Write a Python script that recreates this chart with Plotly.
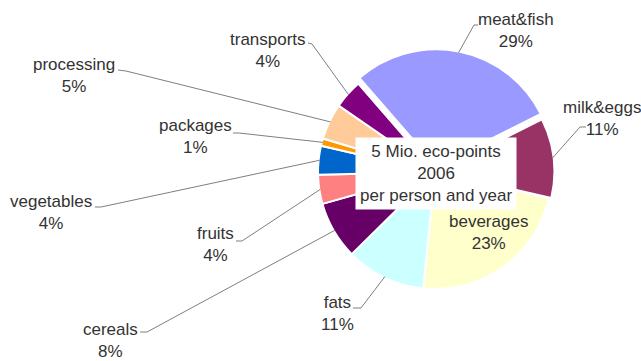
import math
import plotly.graph_objects as go

# ---- data ----
categories = ["meat&fish", "milk&eggs", "beverages", "fats", "cereals",
              "fruits", "vegetables", "packages", "processing", "transports"]
shares = [29, 11, 23, 11, 8, 4, 4, 1, 5, 4]
colors = ["#9999FF", "#993366", "#FFFFCC", "#CCFFFF", "#660066",
          "#FF8080", "#0066CC", "#FF9900", "#FFCC99", "#800080"]
pulls = [0.05, 0.02, 0, 0, 0, 0, 0, 0, 0, 0]
center_title = ["5 Mio. eco-points", "2006", "per person and year"]

# ---- layout (pixels) ----
W, H = 641, 361
CX, CY, R = 435, 172, 117
ROT = -41
FONT = "Liberation Sans, Arial, sans-serif"
TXT = "#333333"

# text centre of each label, and leader anchor points (text side)
label_center = {
    "meat&fish": (516, 31), "milk&eggs": (602, 118), "beverages": (488, 232),
    "fats": (337, 313), "cereals": (110, 340), "fruits": (215, 245),
    "vegetables": (51, 212), "packages": (195, 137), "processing": (74, 75),
    "transports": (268, 50),
}
leader_anchor = {
    "meat&fish": [(478, 25), (474, 25)],
    "milk&eggs": [(586, 127), (580, 127)],
    "fats": [(353, 308), (361, 308)],
    "cereals": [(140, 332), (147, 332)],
    "fruits": [(236, 241), (242, 241)],
    "vegetables": [(95, 207), (101, 207)],
    "packages": [(233, 133), (239, 133)],
    "processing": [(118, 70), (126, 71)],
    "transports": [(308, 43), (312, 44)],
}


def px(x):
    return x / W


def py(y):
    return 1 - y / H


half = R * (1 + max(pulls))
fig = go.Figure(go.Pie(
    labels=categories, values=shares, sort=False, direction="clockwise",
    rotation=ROT, pull=pulls, textinfo="none", hoverinfo="none",
    marker=dict(colors=colors, line=dict(color="white", width=2)),
    domain=dict(x=[px(CX - half), px(CX + half)],
                y=[py(CY + half), py(CY - half)]),
    showlegend=False,
))

total = sum(shares)
cum = 0
annotations = []
shapes = []
for name, v, pl in zip(categories, shares, pulls):
    mid = math.radians(ROT + 360 * (cum + v / 2) / total)
    cum += v
    pct = round(100 * v / total)
    tx, ty = label_center[name]
    annotations.append(dict(
        x=px(tx), y=py(ty), xref="paper", yref="paper", showarrow=False,
        xanchor="center", yanchor="middle", align="center",
        text=f"{name}<br>{pct}%", font=dict(family=FONT, size=17, color=TXT)))
    if name in leader_anchor:
        r = R * (1 + pl) - 1
        ex, ey = CX + r * math.sin(mid), CY - r * math.cos(mid)
        pts = leader_anchor[name] + [(ex, ey)]
        path = "M " + " L ".join(f"{px(x):.5f},{py(y):.5f}" for x, y in pts)
        shapes.append(dict(type="path", path=path, xref="paper", yref="paper",
                           line=dict(color="#7f7f7f", width=1)))

annotations.append(dict(
    x=px(436), y=py(173), xref="paper", yref="paper", showarrow=False,
    xanchor="center", yanchor="middle", align="center",
    text="<br>".join(center_title), bgcolor="white", borderpad=4,
    font=dict(family=FONT, size=17, color=TXT)))

fig.update_layout(
    width=W, height=H, margin=dict(l=0, r=0, t=0, b=0),
    paper_bgcolor="white", plot_bgcolor="white",
    annotations=annotations, shapes=shapes,
)
fig.write_html("out.html")
